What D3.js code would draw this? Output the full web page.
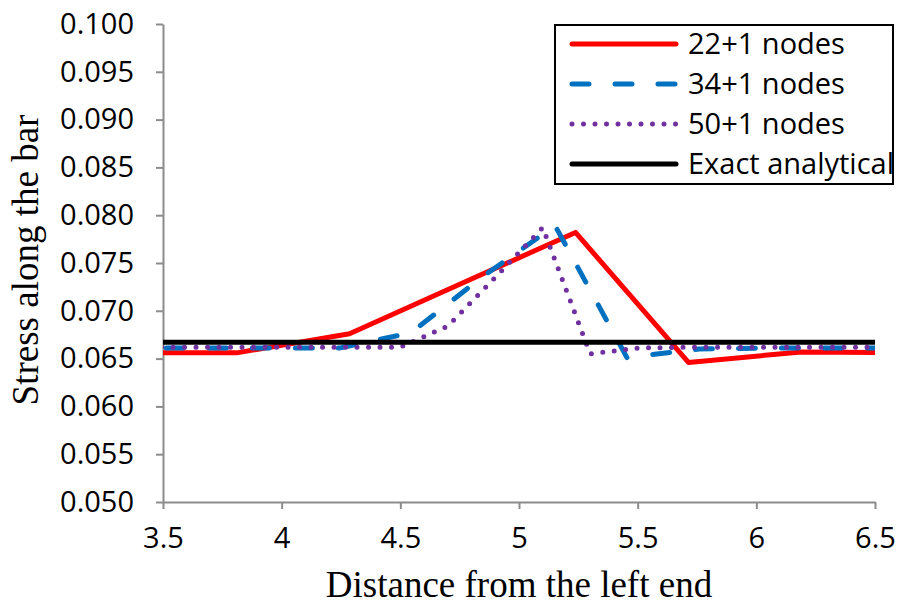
<!DOCTYPE html>
<html>
<head>
<meta charset="utf-8">
<script src="https://cdn.jsdelivr.net/npm/d3@7"></script>
<style>
  body { margin: 0; background: #fff; }
  svg { display: block; }
  .tick text { font-family: "Open Sans", sans-serif; font-size: 29px; fill: #000; }
</style>
</head>
<body>
<svg width="903" height="610"></svg>
<script>
// values
var redX = [3.333, 3.810, 4.286, 4.762, 5.238, 5.714, 6.190, 6.667];
var redY = [0.0656, 0.0656, 0.0676, 0.0729, 0.0782, 0.0646, 0.0657, 0.0656];

var blueX = [3.333, 3.636, 3.939, 4.242, 4.545, 4.848, 5.152, 5.455, 5.758, 6.061, 6.364, 6.667];
var blueY = [0.0661, 0.0661, 0.0661, 0.0661, 0.0677, 0.0736, 0.0789, 0.0651, 0.0660, 0.0661, 0.0661, 0.0661];

var purpleX = [3.3, 3.5, 3.7, 3.9, 4.1, 4.3, 4.5, 4.7, 4.9, 5.1, 5.3, 5.5, 5.7, 5.9, 6.1, 6.3, 6.5, 6.7];
var purpleY = [0.0662, 0.0662, 0.0662, 0.0662, 0.0662, 0.0662, 0.0662, 0.0684, 0.0735, 0.0787, 0.0655, 0.0661, 0.0662, 0.0662, 0.0662, 0.0662, 0.0662, 0.0662];

var exactX = [3.5, 6.5];
var exactY = [0.0667, 0.0667];

var xTicks = [3.5, 4, 4.5, 5, 5.5, 6, 6.5];
var yTicks = [0.050, 0.055, 0.060, 0.065, 0.070, 0.075, 0.080, 0.085, 0.090, 0.095, 0.100];

var seriesNames = ["22+1 nodes", "34+1 nodes", "50+1 nodes", "Exact analytical"];

var svg = d3.select("svg");
var mLeft = 163, mRight = 875, mTop = 24, mBottom = 502;

var x = d3.scaleLinear().domain([3.5, 6.5]).range([mLeft, mRight]);
var y = d3.scaleLinear().domain([0.05, 0.1]).range([mBottom, mTop]);

var series = [
  { name: seriesNames[0], xs: redX, ys: redY, color: "#ff0000", dash: null, cap: "butt", width: 5 },
  { name: seriesNames[1], xs: blueX, ys: blueY, color: "#0070c0", dash: "17,26", cap: "round", width: 5 },
  { name: seriesNames[2], xs: purpleX, ys: purpleY, color: "#7030a0", dash: "0,11.5", cap: "round", width: 5 },
  { name: seriesNames[3], xs: exactX, ys: exactY, color: "#000000", dash: null, cap: "butt", width: 5 }
];

svg.append("clipPath").attr("id", "plot")
  .append("rect")
  .attr("x", mLeft).attr("y", mTop)
  .attr("width", mRight - mLeft).attr("height", mBottom - mTop);

// axes
var xAxis = svg.append("g")
  .attr("transform", "translate(0," + mBottom + ")")
  .call(d3.axisBottom(x).tickValues(xTicks).tickSize(7).tickSizeOuter(0).tickPadding(18)
    .tickFormat(d3.format("")));

var yAxis = svg.append("g")
  .attr("transform", "translate(" + mLeft + ",0)")
  .call(d3.axisLeft(y).tickValues(yTicks).tickSize(7).tickSizeOuter(0).tickPadding(22)
    .tickFormat(d3.format(".3f")));

[xAxis, yAxis].forEach(function (a) {
  a.select(".domain").attr("stroke", "#8c8c8c").attr("stroke-width", 2);
  a.selectAll(".tick line").attr("stroke", "#8c8c8c").attr("stroke-width", 2);
});

var line = d3.line()
  .x(function (d) { return x(d[0]); })
  .y(function (d) { return y(d[1]); });

var lines = svg.append("g").attr("clip-path", "url(#plot)");

series.forEach(function (s) {
  var pts = s.xs.map(function (v, i) { return [v, s.ys[i]]; });
  lines.append("path")
    .datum(pts)
    .attr("d", line)
    .attr("fill", "none")
    .attr("stroke", s.color)
    .attr("stroke-width", s.width)
    .attr("stroke-linecap", s.cap)
    .attr("stroke-linejoin", "round")
    .attr("stroke-dasharray", s.dash);
});

// legend
var legend = svg.append("g");
legend.append("rect")
  .attr("x", 555).attr("y", 25)
  .attr("width", 338).attr("height", 159)
  .attr("fill", "#fff")
  .attr("stroke", "#000")
  .attr("stroke-width", 2);

series.forEach(function (s, i) {
  var yy = 44 + i * 40;
  legend.append("line")
    .attr("x1", 572).attr("x2", 676)
    .attr("y1", yy).attr("y2", yy)
    .attr("stroke", s.color)
    .attr("stroke-width", s.width)
    .attr("stroke-linecap", "round")
    .attr("stroke-dasharray", s.dash);
  legend.append("text")
    .attr("x", 688).attr("y", yy)
    .attr("dy", "0.36em")
    .style("font-family", "'Open Sans', sans-serif")
    .style("font-size", "29px")
    .text(s.name);
});

// axis titles
svg.append("text")
  .attr("x", (mLeft + mRight) / 2).attr("y", 597)
  .attr("text-anchor", "middle")
  .style("font-family", "'Liberation Serif', 'Times New Roman', serif")
  .style("font-size", "37px")
  .text("Distance from the left end");

svg.append("text")
  .attr("transform", "translate(38,260) rotate(-90)")
  .attr("text-anchor", "middle")
  .style("font-family", "'Liberation Serif', 'Times New Roman', serif")
  .style("font-size", "37px")
  .text("Stress along the bar");
</script>
</body>
</html>
